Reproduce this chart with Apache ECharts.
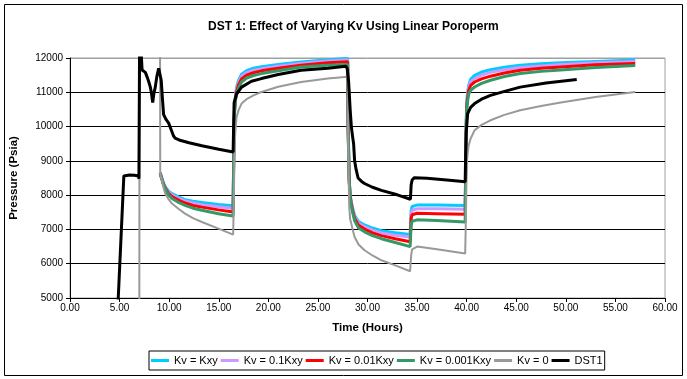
<!DOCTYPE html>
<html>
<head>
<meta charset="utf-8">
<script src="https://cdn.jsdelivr.net/npm/echarts@6/dist/echarts.min.js"></script>
<style>
html,body{margin:0;padding:0;background:#fff;}
#chart{width:687px;height:379px;}
</style>
</head>
<body>
<div id="chart"></div>
<script>
// ---- data ----
const titleText = 'DST 1: Effect of Varying Kv Using Linear Poroperm';
const xName = 'Time (Hours)';
const yName = 'Pressure (Psia)';
const seriesNames = ['Kv = Kxy', 'Kv = 0.1Kxy', 'Kv = 0.01Kxy', 'Kv = 0.001Kxy', 'Kv = 0', 'DST1'];

// simulated curves share one time grid (hours); null = hidden behind the Kv = 0 trace
const tSim = [6.99, 7.01, 9.08, 9.1,
  9.18, 9.28, 9.4, 9.6, 9.9, 10.28, 11.0, 11.6, 12.4, 13.3, 14.97, 16.45,
  16.5, 16.55, 16.6, 16.7, 16.8, 17.0, 17.3, 17.8, 18.5, 19.3, 21, 23.3, 26, 28.0,
  28.05, 28.15, 28.25, 28.37, 28.5, 28.7, 29.1, 29.7, 30.5, 31.4, 32.8, 34.3,
  34.4, 34.5, 34.6, 35, 37, 39.85,
  39.9, 39.95, 40.0, 40.1, 40.2, 40.4, 40.8, 41.5, 42.4, 43.8, 45.4, 47.5, 49.5, 53, 57];

const pKvKxy = [null, null, null, 8650,
  8560, 8480, 8370, 8250, 8130, 8045, 7940, 7870, 7820, 7783, 7730, 7690,
  9000, 10100, 10600, 10950, 11150, 11350, 11530, 11630, 11700, 11745, 11810, 11883, 11950, 11985,
  10000, 8500, 8000, 7800, 7620, 7400, 7230, 7130, 7040, 6960, 6900, 6850,
  7550, 7670, 7700, 7710, 7710, 7700,
  8800, 10000, 10700, 11000, 11200, 11380, 11495, 11590, 11660, 11730, 11787, 11830, 11860, 11900, 11940];

const pKv01 = [null, null, null, 8650,
  8555, 8470, 8355, 8230, 8100, 8010, 7900, 7830, 7770, 7720, 7660, 7610,
  8950, 10050, 10550, 10900, 11090, 11290, 11460, 11570, 11640, 11690, 11760, 11840, 11910, 11940,
  9950, 8480, 7980, 7770, 7580, 7360, 7180, 7080, 6980, 6900, 6830, 6780,
  7440, 7560, 7590, 7600, 7600, 7590,
  8750, 9950, 10650, 10930, 11130, 11300, 11400, 11500, 11580, 11660, 11720, 11770, 11810, 11860, 11900];

const pKv001 = [null, null, null, 8650,
  8550, 8460, 8340, 8210, 8060, 7960, 7850, 7770, 7700, 7650, 7570, 7510,
  8900, 10000, 10500, 10850, 11020, 11220, 11390, 11500, 11570, 11625, 11700, 11790, 11860, 11890,
  9900, 8460, 7950, 7740, 7550, 7320, 7120, 7010, 6900, 6820, 6730, 6640,
  7320, 7430, 7460, 7470, 7460, 7440,
  8700, 9900, 10580, 10850, 11050, 11200, 11300, 11390, 11470, 11560, 11640, 11700, 11740, 11800, 11840];

const pKv0001 = [null, null, null, 8650,
  8545, 8450, 8325, 8190, 8020, 7900, 7780, 7704, 7620, 7558, 7460, 7390,
  8850, 9950, 10450, 10780, 10940, 11130, 11300, 11410, 11490, 11545, 11630, 11738, 11790, 11810,
  9850, 8440, 7920, 7700, 7500, 7250, 7040, 6930, 6820, 6730, 6620, 6500,
  7130, 7240, 7270, 7280, 7260, 7220,
  8650, 9850, 10500, 10760, 10950, 11060, 11154, 11260, 11350, 11460, 11545, 11610, 11650, 11720, 11780];

const pKv0 = [4000, 13000, 13000, 8650,
  8520, 8433, 8250, 8045, 7900, 7754, 7590, 7462, 7330, 7217, 7024, 6850,
  7500, 8500, 9500, 9950, 10280, 10480, 10670, 10800, 10910, 11009, 11160, 11300, 11400, 11450,
  9500, 7700, 7300, 7170, 7000, 6780, 6560, 6392, 6240, 6100, 5950, 5780,
  6250, 6420, 6470, 6500, 6420, 6300,
  7000, 7800, 8900, 9200, 9450, 9650, 9892, 10050, 10183, 10340, 10475, 10600, 10700, 10860, 11010];

// measured DST1 gauge
const tDst = [4.85, 5.43, 5.6, 6.0, 6.5, 6.9, 6.95, 7.02, 7.15, 7.27,
  7.45, 7.6, 7.77, 7.95, 8.1, 8.2, 8.34, 8.45, 8.6, 8.75,
  8.94, 9.05, 9.2, 9.3, 9.44, 9.7, 9.95, 10.15, 10.28, 10.45,
  10.6, 11.0, 12.0, 13.3, 15.0, 16.45, 16.52, 16.55, 16.8, 17.3,
  18.3, 19.3, 21, 23.3, 26, 27.8, 27.95, 28.1, 28.25, 28.37,
  28.5, 28.6, 28.7, 28.85, 29.05, 29.4, 29.7, 30.5, 31.4, 33,
  34.33, 34.4, 34.5, 34.73, 36, 38, 39.85, 39.9, 39.95, 40.1,
  40.4, 40.8, 41.5, 42.4, 44, 45.4, 48, 51.1];
const pDst = [4900, 8560, 8580, 8590, 8580, 8560, 8480, 12600, 12300, 11650,
  11680, 11580, 11450, 11300, 11150, 11000, 10700, 10950, 11150, 11450,
  11700, 11650, 11350, 10900, 10350, 10200, 10100, 10050, 9850, 9720,
  9660, 9610, 9530, 9440, 9340, 9260, 10300, 10700, 10950, 11150,
  11320, 11400, 11520, 11640, 11700, 11760, 11700, 11300, 10500, 10000,
  9700, 9500, 9000, 8750, 8500, 8400, 8340, 8230, 8140, 8010,
  7880, 8300, 8440, 8510, 8490, 8440, 8390, 9200, 9800, 10380,
  10560, 10670, 10800, 10910, 11040, 11150, 11270, 11370];

const xMin = 0, xMax = 60, xStep = 5;
const yMin = 5000, yMax = 12000, yStep = 1000;

// ---- build ----
const zip = (t, p) => t.map((v, i) => [v, p[i]]).filter(d => d[1] !== null);
const simValues = [pKvKxy, pKv01, pKv001, pKv0001, pKv0];
const colors = ['#00ccff', '#cc99ff', '#ff0000', '#339966', '#999999', '#000000'];
const widths = [3, 3, 3, 3, 2, 3];
const FONT = 'Liberation Sans, Arial, sans-serif';

const series = seriesNames.map((name, i) => ({
  name: name,
  type: 'line',
  data: i < 5 ? zip(tSim, simValues[i]) : zip(tDst, pDst),
  showSymbol: false,
  symbol: 'none',
  clip: true,
  lineStyle: { color: colors[i], width: widths[i] },
  itemStyle: { color: colors[i] },
  emphasis: { disabled: true },
  z: 2 + i
}));

const nSplit = Math.round((yMax - yMin) / yStep) + 1;
const splitColors = [];
for (let i = 0; i < nSplit; i++) splitColors.push(i === nSplit - 1 ? '#a0a0a0' : '#000000');

const chart = echarts.init(document.getElementById('chart'), null, { renderer: 'canvas' });
chart.setOption({
  animation: false,
  backgroundColor: '#ffffff',
  title: {
    text: titleText,
    left: 208, top: 21, padding: 0,
    textStyle: { fontFamily: FONT, fontSize: 12, fontWeight: 'bold', color: '#000' }
  },
  grid: {
    left: 68, top: 58, width: 597, height: 240,
    show: true, borderColor: '#a0a0a0', borderWidth: 1, backgroundColor: '#fff'
  },
  legend: {
    data: seriesNames,
    left: 149, top: 351,
    orient: 'horizontal',
    icon: 'rect',
    itemWidth: 18, itemHeight: 3, itemGap: 3,
    padding: [4, 2],
    borderColor: '#000', borderWidth: 1,
    textStyle: { fontFamily: FONT, fontSize: 11, color: '#000' }
  },
  xAxis: {
    type: 'value', min: xMin, max: xMax, interval: xStep,
    name: xName, nameLocation: 'middle', nameGap: 24,
    nameTextStyle: { fontFamily: FONT, fontSize: 11.5, fontWeight: 'bold', color: '#000' },
    axisLine: { show: true, onZero: false, lineStyle: { color: '#000', width: 1 } },
    axisTick: { show: true, inside: false, length: 4, lineStyle: { color: '#000' } },
    axisLabel: { margin: 5, fontFamily: FONT, fontSize: 10, color: '#000', formatter: v => v.toFixed(2) },
    splitLine: { show: false }
  },
  yAxis: {
    type: 'value', min: yMin, max: yMax, interval: yStep,
    name: yName, nameLocation: 'middle', nameGap: 50,
    nameTextStyle: { fontFamily: FONT, fontSize: 11.5, fontWeight: 'bold', color: '#000' },
    axisLine: { show: true, onZero: false, lineStyle: { color: '#000', width: 1 } },
    axisTick: { show: true, inside: false, length: 4, lineStyle: { color: '#000' } },
    axisLabel: { margin: 7, fontFamily: FONT, fontSize: 10, color: '#000', formatter: v => String(v) },
    splitLine: { show: true, lineStyle: { color: splitColors, width: 1 } }
  },
  graphic: [{
    type: 'rect', silent: true, z: 100,
    shape: { x: 4.5, y: 4.5, width: 678, height: 371 },
    style: { fill: null, stroke: '#000', lineWidth: 1 }
  }],
  series: series
});
</script>
</body>
</html>
